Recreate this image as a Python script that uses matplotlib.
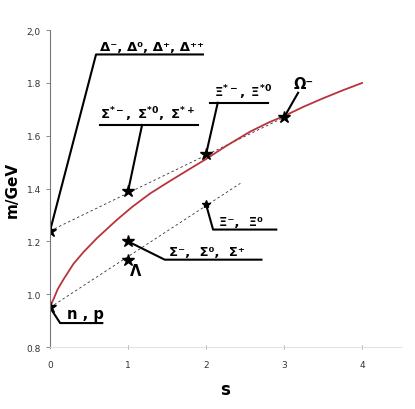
import matplotlib
matplotlib.use("Agg")
import matplotlib.pyplot as plt

# baryon masses (GeV) vs strangeness s
s_decuplet = [0, 1, 2, 3]
m_decuplet = [1.24, 1.39, 1.53, 1.67]     # Delta, Sigma*, Xi*, Omega

s_octet = [0, 1, 1, 2]
m_octet = [0.95, 1.20, 1.13, 1.34]        # N, Sigma, Lambda, Xi

# dashed guide lines (end points)
s_upper = [0, 3]
m_upper = [1.24, 1.67]
s_lower = [0, 2.44]
m_lower = [0.95, 1.42]

# red curve
s_curve = [0.0, 0.02, 0.05, 0.1, 0.17, 0.3, 0.43, 0.6, 0.85, 1.05, 1.28, 1.5,
           1.71, 2.0, 2.25, 2.56, 2.8, 3.0, 3.25, 3.5, 3.75, 4.0]
m_curve = [0.95, 0.965, 0.985, 1.02, 1.055, 1.115, 1.16, 1.212, 1.28, 1.33,
           1.381, 1.422, 1.46, 1.512, 1.56, 1.615, 1.65, 1.675, 1.71, 1.742,
           1.772, 1.80]

yticks = [0.8, 1.0, 1.2, 1.4, 1.6, 1.8, 2.0]
ytick_labels = ["0.8", "1.0", "1.2", "1.4", "1.6", "1.8", "2,0"]
xticks = [0, 1, 2, 3, 4]

fig = plt.figure(figsize=(4.15, 4.10), dpi=100)
ax = fig.add_axes([0.1205, 0.151, 0.846, 0.773])

lw_lead = 1.5
fs = 9.5

# guide lines and the curve
ax.plot(s_upper, m_upper, color="#333333", lw=0.6, ls=(0, (3, 3)))
ax.plot(s_lower, m_lower, color="#333333", lw=0.6, ls=(0, (3, 3)))
ax.plot(s_curve, m_curve, color="#b8343a", lw=1.3)

# stars
ax.plot(s_decuplet, m_decuplet, "*", color="black", ms=9, ls="none")
ax.plot(s_octet[:3], m_octet[:3], "*", color="black", ms=9, ls="none")
ax.plot(s_octet[3:], m_octet[3:], "*", color="black", ms=6, ls="none")

# Delta
ax.plot([0.0, 0.59, 1.96], [m_decuplet[0], 1.908, 1.908], color="black", lw=lw_lead)
ax.text(0.64, 1.915, "Δ⁻, Δ⁰, Δ⁺, Δ⁺⁺", fontsize=fs, fontweight="bold", va="bottom")

# Sigma*
ax.plot([1.0, 1.18], [m_decuplet[1], 1.641], color="black", lw=lw_lead)
ax.plot([0.64, 1.90], [1.641, 1.641], color="black", lw=lw_lead)
ax.text(0.64, 1.648, r"$\mathbf{\Sigma^{*-},\ \Sigma^{*0},\ \Sigma^{*+}}$",
        fontsize=fs, va="bottom")

# Xi*
ax.plot([2.0, 2.15], [m_decuplet[2], 1.725], color="black", lw=lw_lead)
ax.plot([2.05, 2.79], [1.725, 1.725], color="black", lw=lw_lead)
ax.text(2.1, 1.732, r"$\mathbf{\Xi^{*-},\ \Xi^{*0}}$", fontsize=fs, va="bottom")

# Omega
ax.plot([3.0, 3.18], [m_decuplet[3], 1.763], color="black", lw=lw_lead)
ax.text(3.12, 1.77, "Ω⁻", fontsize=fs + 1, fontweight="bold", va="bottom")

# Xi
ax.plot([2.0, 2.09, 2.90], [m_octet[3], 1.245, 1.245], color="black", lw=lw_lead)
ax.text(2.16, 1.252, "Ξ⁻,  Ξ⁰", fontsize=fs, fontweight="bold", va="bottom")

# Sigma
ax.plot([1.0, 1.47, 2.71], [m_octet[1], 1.131, 1.131], color="black", lw=lw_lead)
ax.text(1.52, 1.138, "Σ⁻,  Σ⁰,  Σ⁺", fontsize=fs, fontweight="bold", va="bottom")

# Lambda
ax.text(1.1, 1.09, "Λ", fontsize=fs + 1, fontweight="bold", ha="center", va="center")

# nucleons
ax.plot([0.0, 0.13, 0.67], [m_octet[0], 0.891, 0.891], color="black", lw=lw_lead)
ax.text(0.22, 0.898, "n , p", fontsize=fs + 1, fontweight="bold", va="bottom")

# axes
ax.set_xlim(0, 4.5)
ax.set_ylim(0.8, 2.0)
ax.set_yticks(yticks)
ax.set_yticklabels(ytick_labels)
ax.set_xticks(xticks)
ax.spines["top"].set_visible(False)
ax.spines["right"].set_visible(False)
ax.spines["left"].set_color("#777777")
ax.spines["left"].set_linewidth(0.8)
ax.spines["bottom"].set_color("#e2e2e2")
ax.spines["bottom"].set_linewidth(0.8)
ax.tick_params(axis="y", labelsize=6.5, labelcolor="#333333", color="#777777",
               length=3, width=0.6)
ax.tick_params(axis="x", labelsize=6.5, labelcolor="#333333", color="#999999",
               length=3, width=0.6, direction="inout", pad=8)

ax.set_ylabel("m/GeV", fontsize=11, fontweight="bold", labelpad=5)
ax.set_xlabel("s", fontsize=12, fontweight="bold", labelpad=8)

fig.savefig("out.png", dpi=100)
